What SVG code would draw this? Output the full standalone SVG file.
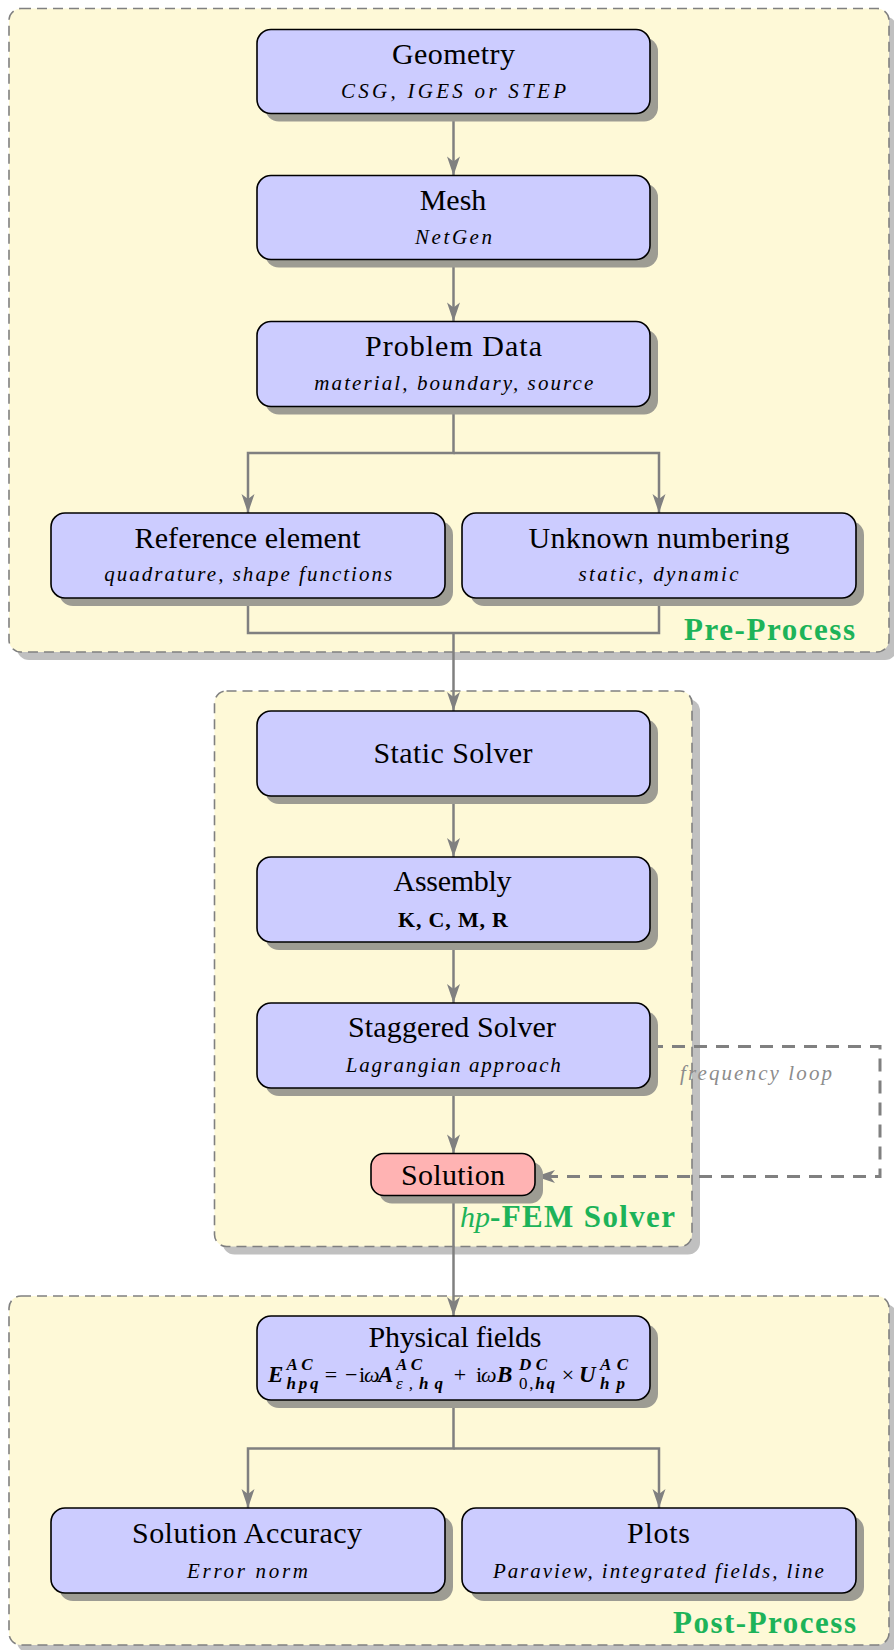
<svg xmlns="http://www.w3.org/2000/svg" width="894" height="1650" viewBox="0 0 894 1650">
<style>
.cont{fill:#fef9d7;stroke:#808080;stroke-width:1.6;stroke-dasharray:10 6}
.csh{fill:#c0c0c0}
.box{fill:#ccccff;stroke:#000;stroke-width:1.6}
.red{fill:#ffb3b3;stroke:#000;stroke-width:1.6}
.sh{fill:#9d9c93}
.t{font-family:"Liberation Serif",serif;font-size:30px;text-anchor:middle;fill:#000}
.s{font-family:"Liberation Serif",serif;font-size:21px;font-style:italic;text-anchor:middle;fill:#000}
.lbl{font-family:"Liberation Serif",serif;font-size:31px;font-weight:bold;fill:#1db359}
.conn{fill:none;stroke:#808080;stroke-width:2.5}
.loop{fill:none;stroke:#808080;stroke-width:3;stroke-dasharray:13 9}
.m{font-family:"Liberation Serif",serif;font-size:22px;fill:#000}
.mb{font-family:"Liberation Serif",serif;font-size:23px;font-weight:bold;font-style:italic;fill:#000}
.ms{font-family:"Liberation Serif",serif;font-size:17px;font-weight:bold;font-style:italic;fill:#000}
</style>
<defs>
<marker id="arr" markerUnits="userSpaceOnUse" viewBox="-21 -8 22 16" markerWidth="22" markerHeight="16" refX="0" refY="0" orient="auto">
<path d="M0,0 L-19,-6.5 L-14,0 L-19,6.5 Z" fill="#808080"/>
</marker>
</defs>

<g id="pre-process">
<rect class="csh" x="17" y="16.5" width="880" height="643.5" rx="12"/>
<rect class="cont" x="9" y="8.5" width="880" height="643.5" rx="12"/>
<text class="lbl" x="684" y="639.5" textLength="171" lengthAdjust="spacing">Pre-Process</text>
</g>
<g id="hp-fem-solver">
<rect class="csh" x="222.5" y="699" width="477.5" height="555.5" rx="12"/>
<rect class="cont" x="214.5" y="691" width="477.5" height="555.5" rx="12"/>
</g>
<g id="post-process">
<rect class="csh" x="17" y="1304" width="880" height="349" rx="12"/>
<rect class="cont" x="9" y="1296" width="880" height="349" rx="12"/>
<text class="lbl" x="673" y="1632.5" textLength="183" lengthAdjust="spacing">Post-Process</text>
</g>

<g id="connectors">
<path class="conn" d="M453.5 113.5 V175.5" marker-end="url(#arr)"/>
<path class="conn" d="M453.5 259.5 V321.5" marker-end="url(#arr)"/>
<path class="conn" d="M453.5 406 V453 H248 V513" marker-end="url(#arr)"/>
<path class="conn" d="M453.5 453 H659 V513" marker-end="url(#arr)"/>
<path class="conn" d="M248 598 V633 H659 V598"/>
<path class="conn" d="M453.5 633 V711" marker-end="url(#arr)"/>
<path class="conn" d="M453.5 796 V857" marker-end="url(#arr)"/>
<path class="conn" d="M453.5 942 V1003" marker-end="url(#arr)"/>
<path class="conn" d="M453.5 1088 V1153.5" marker-end="url(#arr)"/>
<path class="conn" d="M453.5 1195.5 V1316" marker-end="url(#arr)"/>
<path class="conn" d="M453.5 1400 V1448.5 H248 V1508" marker-end="url(#arr)"/>
<path class="conn" d="M453.5 1448.5 H659 V1508" marker-end="url(#arr)"/>
<path class="loop" d="M650 1046.5 H880 V1176.5 H536" marker-end="url(#arr)"/>
<text x="680" y="1080" textLength="152" lengthAdjust="spacing" style="font-family:'Liberation Serif',serif;font-size:21px;font-style:italic;fill:#8c8c8c">frequency loop</text>
</g>

<g id="geometry">
<rect class="sh" x="265" y="37.5" width="393" height="84" rx="14"/>
<rect class="box" x="257" y="29.5" width="393" height="84" rx="14"/>
<text class="t" x="453.5" y="63.5" textLength="123" lengthAdjust="spacing">Geometry</text>
<text class="s" x="453.5" y="97.5" textLength="225" lengthAdjust="spacing">CSG, IGES or STEP</text>
</g>
<g id="mesh">
<rect class="sh" x="265" y="183.5" width="393" height="84" rx="14"/>
<rect class="box" x="257" y="175.5" width="393" height="84" rx="14"/>
<text class="t" x="453" y="209.5">Mesh</text>
<text class="s" x="453.5" y="243.5" textLength="77" lengthAdjust="spacing">NetGen</text>
</g>
<g id="problem-data">
<rect class="sh" x="265" y="329.5" width="393" height="85" rx="14"/>
<rect class="box" x="257" y="321.5" width="393" height="85" rx="14"/>
<text class="t" x="453.5" y="356" textLength="177" lengthAdjust="spacing">Problem Data</text>
<text class="s" x="453.8" y="390" textLength="279" lengthAdjust="spacing">material, boundary, source</text>
</g>
<g id="reference-element">
<rect class="sh" x="59" y="521" width="394" height="85" rx="14"/>
<rect class="box" x="51" y="513" width="394" height="85" rx="14"/>
<text class="t" x="247.5" y="548" textLength="226" lengthAdjust="spacing">Reference element</text>
<text class="s" x="248.2" y="580.5" textLength="288" lengthAdjust="spacing">quadrature, shape functions</text>
</g>
<g id="unknown-numbering">
<rect class="sh" x="470" y="521" width="394" height="85" rx="14"/>
<rect class="box" x="462" y="513" width="394" height="85" rx="14"/>
<text class="t" x="659" y="548" textLength="261" lengthAdjust="spacing">Unknown numbering</text>
<text class="s" x="658.5" y="580.5" textLength="160" lengthAdjust="spacing">static, dynamic</text>
</g>
<g id="static-solver">
<rect class="sh" x="265" y="719" width="393" height="85" rx="14"/>
<rect class="box" x="257" y="711" width="393" height="85" rx="14"/>
<text class="t" x="453" y="763" textLength="159" lengthAdjust="spacing">Static Solver</text>
</g>
<g id="assembly">
<rect class="sh" x="265" y="865" width="393" height="85" rx="14"/>
<rect class="box" x="257" y="857" width="393" height="85" rx="14"/>
<text class="t" x="452.5" y="891" textLength="118" lengthAdjust="spacing">Assembly</text>
<text x="453" y="926.5" textLength="110" lengthAdjust="spacing" style="font-family:'Liberation Serif',serif;font-size:22px;font-weight:bold;text-anchor:middle">K, C, M, R</text>
</g>
<g id="staggered-solver">
<rect class="sh" x="265" y="1011" width="393" height="85" rx="14"/>
<rect class="box" x="257" y="1003" width="393" height="85" rx="14"/>
<text class="t" x="452" y="1037" textLength="208" lengthAdjust="spacing">Staggered Solver</text>
<text class="s" x="453.3" y="1071.5" textLength="215" lengthAdjust="spacing">Lagrangian approach</text>
</g>
<g id="solution">
<rect class="sh" x="379" y="1161.5" width="164" height="42" rx="13"/>
<rect class="red" x="371" y="1153.5" width="164" height="42" rx="13"/>
<text class="t" x="453" y="1185" textLength="104" lengthAdjust="spacing">Solution</text>
</g>
<g id="hp-label">
<text class="lbl" x="460" y="1227" style="font-weight:normal;font-style:italic;font-size:30px">hp</text>
<text class="lbl" x="490" y="1227" textLength="185" lengthAdjust="spacing">-FEM Solver</text>
</g>
<g id="physical-fields">
<rect class="sh" x="265" y="1324" width="393" height="84" rx="14"/>
<rect class="box" x="257" y="1316" width="393" height="84" rx="14"/>
<text class="t" x="455" y="1346.5" textLength="173" lengthAdjust="spacing">Physical fields</text>
<text class="mb" x="268" y="1382">E</text>
<text class="ms" x="286.5" y="1370" textLength="26" lengthAdjust="spacing">AC</text>
<text class="ms" x="286.5" y="1389" textLength="32" lengthAdjust="spacing">hpq</text>
<text class="m" x="331" y="1382" text-anchor="middle">=</text>
<text class="m" x="345" y="1382">−</text>
<text class="m" x="359" y="1382">i</text>
<text class="m" x="364" y="1382" font-style="italic">ω</text>
<text class="mb" x="378" y="1382">A</text>
<text class="ms" x="396" y="1370" textLength="26" lengthAdjust="spacing">AC</text>
<text class="ms" x="396" y="1389" textLength="47" lengthAdjust="spacing"><tspan font-weight="normal">ε,</tspan>hq</text>
<text class="m" x="460" y="1382" text-anchor="middle">+</text>
<text class="m" x="476" y="1382">i</text>
<text class="m" x="481" y="1382" font-style="italic">ω</text>
<text class="mb" x="497" y="1382">B</text>
<text class="ms" x="519" y="1370" textLength="28" lengthAdjust="spacing">DC</text>
<text class="ms" x="519" y="1389" textLength="36" lengthAdjust="spacing"><tspan font-weight="normal" font-style="normal">0,</tspan>hq</text>
<text class="m" x="568" y="1382" text-anchor="middle">×</text>
<text class="mb" x="579" y="1382">U</text>
<text class="ms" x="600" y="1370" textLength="28" lengthAdjust="spacing">AC</text>
<text class="ms" x="600" y="1389" textLength="25" lengthAdjust="spacing">hp</text>
</g>
<g id="solution-accuracy">
<rect class="sh" x="59" y="1516" width="394" height="85" rx="14"/>
<rect class="box" x="51" y="1508" width="394" height="85" rx="14"/>
<text class="t" x="247" y="1543" textLength="230" lengthAdjust="spacing">Solution Accuracy</text>
<text class="s" x="247.5" y="1577.5" textLength="121" lengthAdjust="spacing">Error norm</text>
</g>
<g id="plots">
<rect class="sh" x="470" y="1516" width="394" height="85" rx="14"/>
<rect class="box" x="462" y="1508" width="394" height="85" rx="14"/>
<text class="t" x="658.5" y="1543" textLength="63" lengthAdjust="spacing">Plots</text>
<text class="s" x="658.4" y="1577.5" textLength="331" lengthAdjust="spacing">Paraview, integrated fields, line</text>
</g>
</svg>
